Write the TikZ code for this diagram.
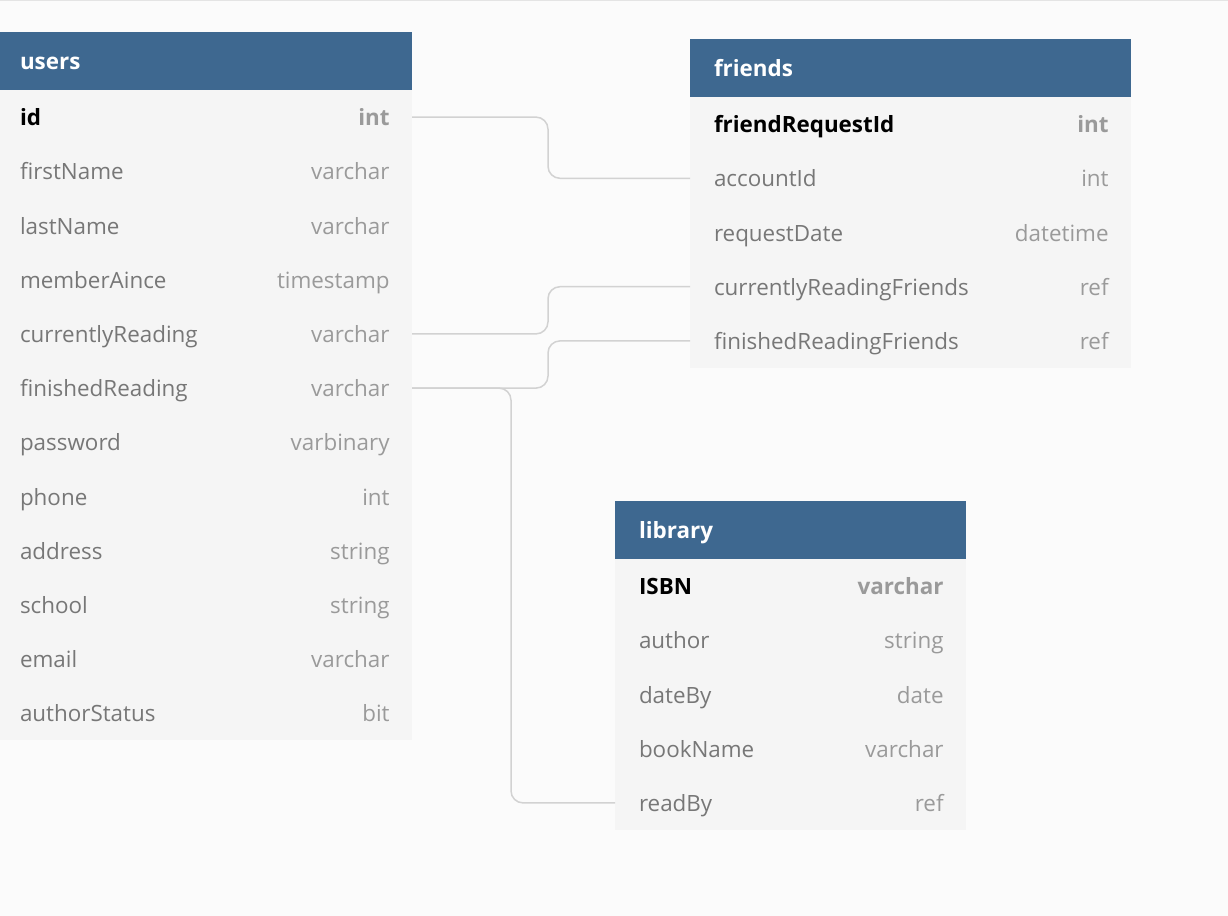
\documentclass[tikz,border=0pt]{standalone}
\usepackage{fontspec}
\setmainfont{Open Sans}
\usepackage{tikz}
\usetikzlibrary{positioning}
\definecolor{hdrblue}{HTML}{3E6890}
\definecolor{rowfill}{HTML}{F5F5F5}
\definecolor{canvas}{HTML}{FBFBFB}
\definecolor{fieldgray}{HTML}{777777}
\definecolor{typegray}{HTML}{9A9A9A}
\definecolor{linkgray}{HTML}{D2D2D2}
\newcommand{\erfont}{\fontsize{11.2}{13}\selectfont}
\tikzset{hdr/.style={rectangle, fill=hdrblue, text=white, font=\erfont\bfseries,
            anchor=north west, text width=#1, align=left, inner xsep=12pt,
            minimum height=29pt, outer sep=0pt, text height=1.9ex, text depth=.3ex},
         row/.style={rectangle, fill=rowfill, text=fieldgray, font=\erfont,
            text width=#1, align=left, inner xsep=12pt, minimum height=27.1pt,
            outer sep=0pt, text height=1.9ex, text depth=.3ex},
         keyrow/.style={row=#1, text=black, font=\erfont\bfseries},
         typ/.style={anchor=east, xshift=-11pt, text=typegray, font=\erfont,
            text height=1.9ex, text depth=.3ex, inner sep=0pt},
         keytyp/.style={typ, font=\erfont\bfseries},
         link/.style={draw=linkgray, line width=0.75pt, rounded corners=6pt}}

\begin{document}
\begin{tikzpicture}[x=0.5pt, y=-0.5pt]
\useasboundingbox[fill=canvas] (0,0) rectangle (1228,916);
\draw[linkgray!60, line width=0.5pt] (0,0.5) -- (1228,0.5);
% users table
\node[hdr=184pt] (users) at (-4,32) {users};
\node[keyrow=184pt, below=0pt of users, label={[keytyp]east:int}] (users-1) {id};
\foreach \f/\t [count=\i from 2] in {firstName/varchar, lastName/varchar,
    memberAince/timestamp, currentlyReading/varchar, finishedReading/varchar,
    password/varbinary, phone/int, address/string, school/string,
    email/varchar, authorStatus/bit}{
  \pgfmathtruncatemacro\j{\i-1}
  \node[row=184pt, below=0pt of users-\j, label={[typ]east:\t}] (users-\i) {\f};
}
% friends table
\node[hdr=196.5pt] (friends) at (690,39) {friends};
\node[keyrow=196.5pt, below=0pt of friends, label={[keytyp]east:int}] (friends-1) {friendRequestId};
\foreach \f/\t [count=\i from 2] in {accountId/int, requestDate/datetime,
    currentlyReadingFriends/ref, finishedReadingFriends/ref}{
  \pgfmathtruncatemacro\j{\i-1}
  \node[row=196.5pt, below=0pt of friends-\j, label={[typ]east:\t}] (friends-\i) {\f};
}
% library table
\node[hdr=151.5pt] (library) at (615,501) {library};
\node[keyrow=151.5pt, below=0pt of library, label={[keytyp]east:varchar}] (library-1) {ISBN};
\foreach \f/\t [count=\i from 2] in {author/string, dateBy/date,
    bookName/varchar, readBy/ref}{
  \pgfmathtruncatemacro\j{\i-1}
  \node[row=151.5pt, below=0pt of library-\j, label={[typ]east:\t}] (library-\i) {\f};
}
% references
\coordinate (bus) at (548,0);
\coordinate (drop) at (511,0);
\draw[link] (users-1.east) -- (users-1.east -| bus) -- (friends-2.west -| bus) -- (friends-2.west);
\draw[link] (users-5.east) -- (users-5.east -| bus) -- (friends-4.west -| bus) -- (friends-4.west);
\draw[link] (users-6.east) -- (users-6.east -| bus) -- (friends-5.west -| bus) -- (friends-5.west);
\draw[link] (users-6.east) -- (users-6.east -| drop) -- (library-5.west -| drop) -- (library-5.west);
\end{tikzpicture}
\end{document}
